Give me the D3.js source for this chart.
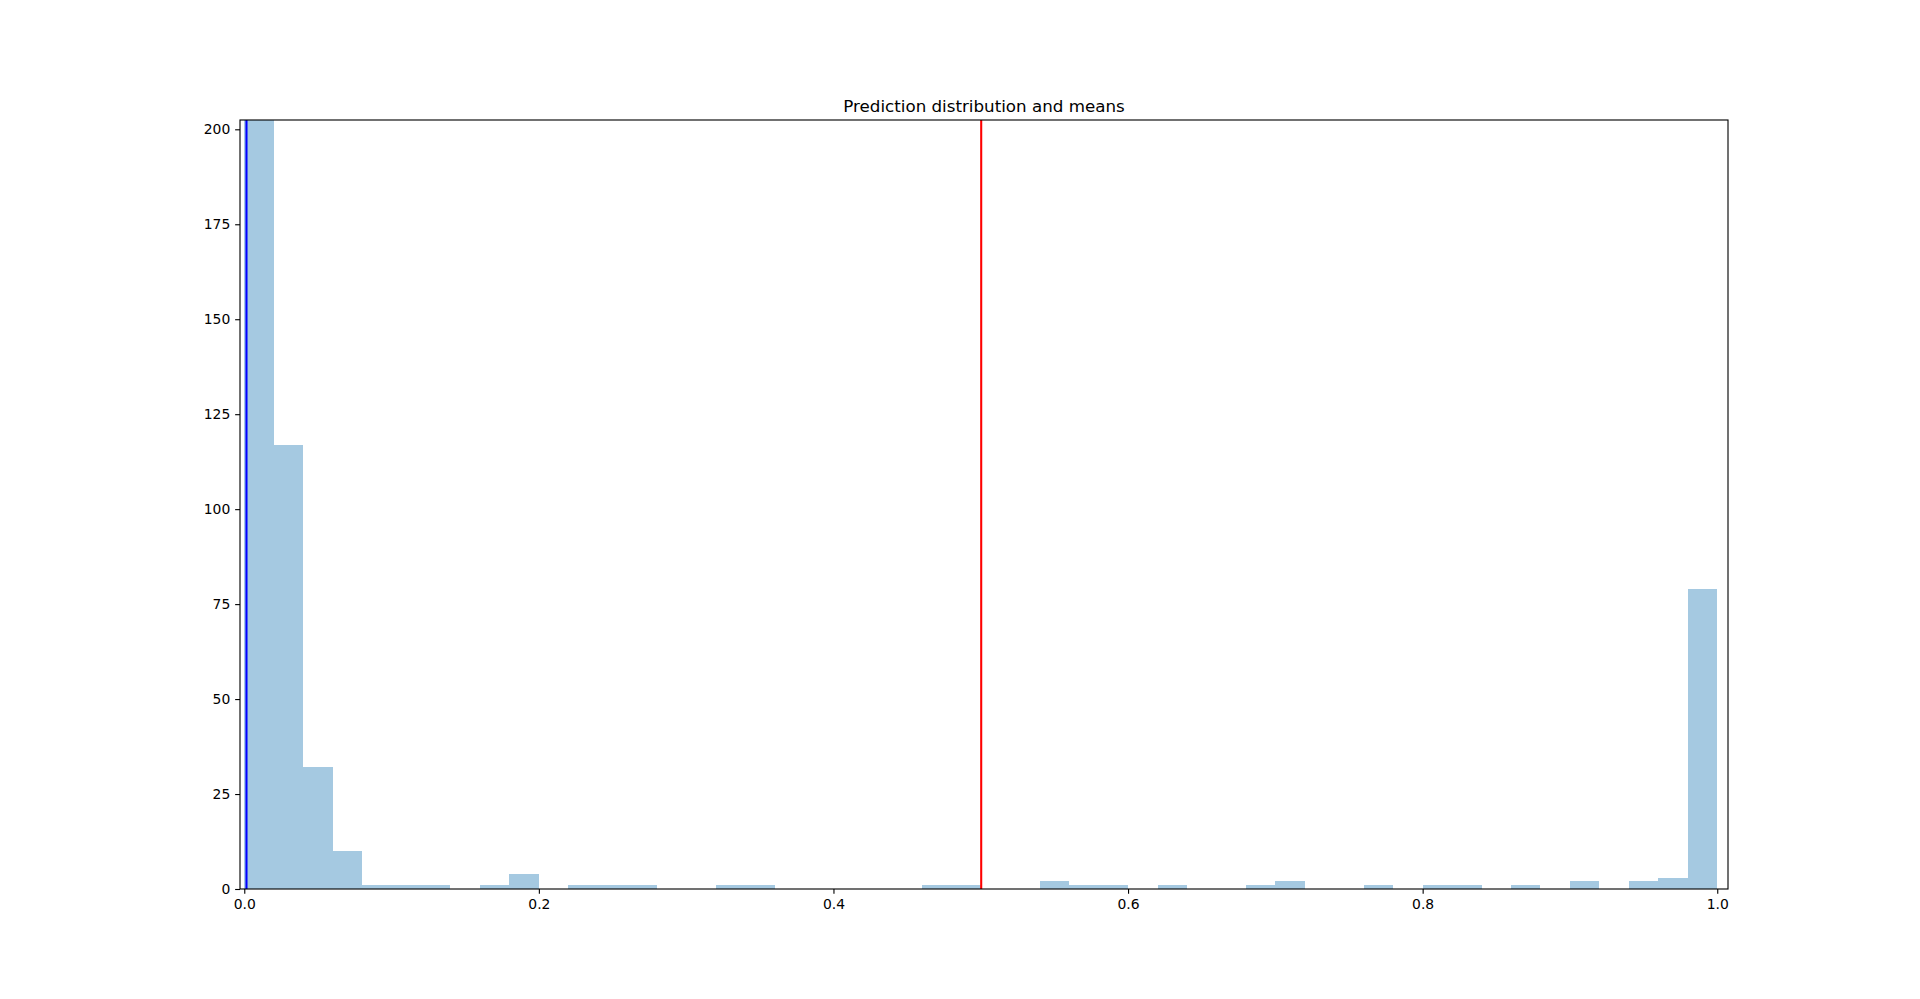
<!DOCTYPE html>
<html>
<head>
<meta charset="utf-8">
<script src="https://cdn.jsdelivr.net/npm/d3@7"></script>
<style>
  html, body { margin: 0; padding: 0; background: #fff; }
  svg { display: block; }
  text { font-family: "DejaVu Sans", sans-serif; fill: #000; }
</style>
</head>
<body>
<svg id="chart" width="1920" height="999"></svg>
<script>
// ---- data ----
const title = "Prediction distribution and means";
const binStart = 0.0;
const binWidth = 0.02;
// histogram counts for 50 bins of width 0.02 over [0, 1]; first bin exceeds the visible range (clipped)
const counts = [
  600, 117, 32, 10, 1, 1, 1, 0, 1, 4,
  0, 1, 1, 1, 0, 0, 1, 1, 0, 0,
  0, 0, 0, 1, 1, 0, 0, 2, 1, 1,
  0, 1, 0, 0, 1, 2, 0, 0, 1, 0,
  1, 1, 0, 1, 0, 2, 0, 2, 3, 79
];
const meanValues = [0.0015, 0.5003];
const meanColors = ["#0000ff", "#ff0000"];
const xTicks = [0.0, 0.2, 0.4, 0.6, 0.8, 1.0];
const yTicks = [0, 25, 50, 75, 100, 125, 150, 175, 200];
const xDomain = [-0.0029, 1.0073];
const yDomain = [0, 202.45];

// ---- layout ----
const mLeft = 240, mRight = 1728, mTop = 120, mBottom = 889;

const svg = d3.select("#chart");
const x = d3.scaleLinear().domain(xDomain).range([mLeft, mRight]);
const y = d3.scaleLinear().domain(yDomain).range([mBottom, mTop]);

svg.append("defs").append("clipPath").attr("id", "clip")
  .append("rect").attr("x", mLeft).attr("y", mTop)
  .attr("width", mRight - mLeft).attr("height", mBottom - mTop);

const bins = counts.map((c, i) => ({ x0: binStart + i * binWidth, x1: binStart + (i + 1) * binWidth, c }));

const plot = svg.append("g").attr("clip-path", "url(#clip)");
plot.selectAll("rect.bar").data(bins.filter(d => d.c > 0)).join("rect")
  .attr("class", "bar")
  .attr("x", d => Math.round(x(d.x0)))
  .attr("width", d => Math.round(x(d.x1)) - Math.round(x(d.x0)))
  .attr("y", d => Math.round(y(d.c)))
  .attr("height", d => Math.round(y(0)) - Math.round(y(d.c)))
  .attr("fill", "#1f77b4")
  .attr("fill-opacity", 0.4)
  .attr("shape-rendering", "crispEdges");

plot.selectAll("line.mean").data(meanValues).join("line")
  .attr("class", "mean")
  .attr("x1", d => x(d)).attr("x2", d => x(d))
  .attr("y1", mTop).attr("y2", mBottom)
  .attr("stroke", (d, i) => meanColors[i])
  .attr("stroke-width", 2.08);

// axes
const tickLen = 4.86, tickPad = 4.86;
const xAxis = d3.axisBottom(x).tickValues(xTicks).tickFormat(d3.format(".1f"))
  .tickSizeInner(tickLen).tickSizeOuter(0).tickPadding(tickPad);
const yAxis = d3.axisLeft(y).tickValues(yTicks).tickFormat(d3.format("d"))
  .tickSizeInner(tickLen).tickSizeOuter(0).tickPadding(tickPad);

const gx = svg.append("g").attr("transform", `translate(0,${mBottom})`).call(xAxis);
const gy = svg.append("g").attr("transform", `translate(${mLeft},0)`).call(yAxis);
[gx, gy].forEach(g => {
  g.select(".domain").remove();
  g.selectAll(".tick line").attr("stroke", "#000").attr("stroke-width", 1.11);
  g.selectAll(".tick text").attr("font-size", "13.9px").attr("fill", "#000")
    .attr("font-family", "DejaVu Sans, sans-serif");
});

// spines
svg.append("rect")
  .attr("x", mLeft).attr("y", mTop)
  .attr("width", mRight - mLeft).attr("height", mBottom - mTop)
  .attr("fill", "none").attr("stroke", "#000").attr("stroke-width", 1.11);

// title
svg.append("text")
  .attr("x", (mLeft + mRight) / 2).attr("y", mTop - 8.3)
  .attr("text-anchor", "middle")
  .attr("font-size", "16.7px")
  .text(title);
</script>
</body>
</html>
